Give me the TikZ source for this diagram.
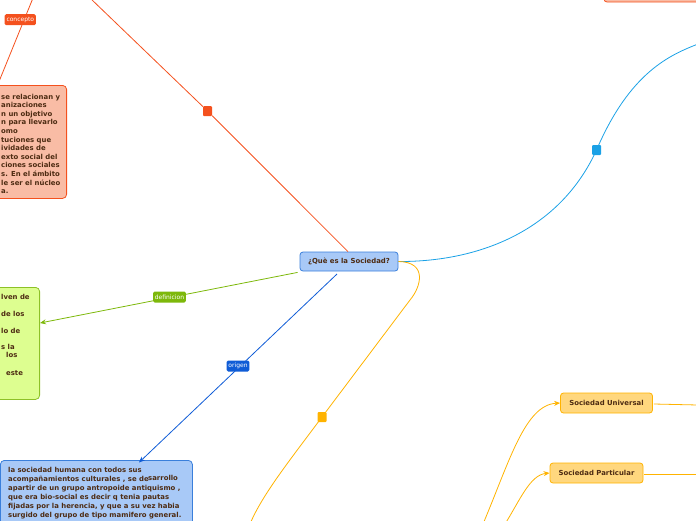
\documentclass[tikz,border=0pt]{standalone}
\usepackage{fontspec}
\setmainfont{DejaVu Sans}
\usetikzlibrary{arrows.meta}
\definecolor{orng}{HTML}{F4511E}
\definecolor{salm}{HTML}{F9BCA5}
\definecolor{grn}{HTML}{7DB80A}
\definecolor{grnfill}{HTML}{DDFE90}
\definecolor{grnbord}{HTML}{8DC127}
\definecolor{dblue}{HTML}{0F5CD6}
\definecolor{bfill}{HTML}{A8C9F7}
\definecolor{bbord}{HTML}{3A7FDB}
\definecolor{cyan1}{HTML}{1AA1E6}
\definecolor{amb}{HTML}{FFB300}
\definecolor{ambfill}{HTML}{FFD77E}
\definecolor{txt}{HTML}{4D2B12}
\tikzset{
  boxtext/.style={font=\fontsize{6.9}{8.7}\selectfont\bfseries, text=txt, inner sep=0pt, anchor=base west},
  lbl/.style={font=\fontsize{6}{7}\selectfont, text=white, rounded corners=1.5pt, inner sep=1.8pt, minimum height=11pt},
  sq/.style={minimum width=9pt, minimum height=10pt, inner sep=0pt, rounded corners=1pt},
  tip/.style={-{Stealth[length=6pt,width=5pt]}},
  topic/.style={rounded corners=3pt, line width=0.8pt, font=\fontsize{6.9}{8}\selectfont\bfseries, text=txt, inner sep=0pt}
}
\begin{document}
\begin{tikzpicture}[x=1pt,y=-1pt]
\useasboundingbox (0,0) rectangle (696,520);
\clip (0,0) rectangle (696,520);
% coordinates
\coordinate (topA) at (90,-2);
\coordinate (conA) at (33,-2);
\coordinate (conB) at (-2,84);
\coordinate (cyanEnd) at (698,44);
\coordinate (ambEnd) at (250,524);
\coordinate (ambU) at (483,524);
\coordinate (ambP) at (505,524);
\coordinate (uEnd) at (698,405);
\coordinate (pEnd) at (698,474);

% top-right orange box (only bottom visible)
\draw[orng, fill=salm, rounded corners=3pt, line width=0.8pt] (604,-20) rectangle (710,2);

% salmon box
\node[draw=orng, fill=salm, rounded corners=4pt, line width=0.8pt, minimum width=120pt, minimum height=113pt, inner sep=0pt, anchor=north east] (sal) at (67,85) {};
\foreach \t [count=\i] in {se relacionan y,anizaciones,n un objetivo,n para llevarlo,omo,tuciones que,ividades de,exto social del,ciones sociales,s. En el ámbito,le ser el núcleo,a.}
  \node[boxtext] at (1,{90.5+\i*8.6}) {\t};

% green box
\node[draw=grnbord, fill=grnfill, rounded corners=4pt, line width=0.8pt, minimum width=90pt, minimum height=112pt, inner sep=0pt, anchor=north east] (gbox) at (40,287) {};
\node[boxtext] at (1,299) {lven de};
\node[boxtext] at (1,316) {de los};
\node[boxtext] at (1,333) {lo de};
\node[boxtext] at (1,349) {s la};
\node[boxtext] at (6,357.5) {los};
\node[boxtext] at (6,375) {este};

% blue box
\node[draw=bbord, fill=bfill, rounded corners=4pt, line width=0.8pt, minimum width=192pt, minimum height=80pt, inner sep=0pt, anchor=north west] (obox) at (0,460) {};
\node[boxtext] at (8,472) {la sociedad humana con todos sus};
\node[boxtext] at (8,481) {acompañamientos culturales , se de};
\node[boxtext] at (148,480.5) {sarrollo};
\node[boxtext] at (8,490) {apartir de un grupo antropoide antiquismo ,};
\node[boxtext] at (8,499) {que era bio-social es decir q tenia pautas};
\node[boxtext] at (8,508) {fijadas por la herencia, y que a su vez habia};
\node[boxtext] at (8,517) {surgido del grupo de tipo mamifero general.};

% central node
\node[topic, draw=bbord, fill=bfill, minimum width=98pt, minimum height=19pt] (c) at (349,261.5) {¿Què es la Sociedad?};

% orange connector to top
\node[sq, fill=orng] (osq) at (207.5,111) {};
\draw[orng, line width=0.8pt] (c.north) ++(-1,0) -- (osq) -- (topA);
% concepto
\draw[orng, line width=0.8pt] (conA) -- (conB);
\node[lbl, fill=orng, anchor=north west] (lc) at (4.5,14) {concepto};

% cyan connector
\node[sq, fill=cyan1] (csq) at (596.5,150) {};
\draw[cyan1, line width=0.8pt] (c.east) .. controls (480,262) and (560,230) .. (csq.center)
  .. controls (630,72) and (670,55) .. (cyanEnd);

% green connector
\draw[grn, line width=0.8pt, tip] (c.south west) ++(-2,1) -- (gbox.east |- 0,323);
\node[lbl, fill=grn] (ld) at (169.5,297) {definicion};

% dark blue connector
\draw[dblue, line width=0.8pt, tip] (337,274) -- (139,462.5);
\node[lbl, fill=dblue] (lo) at (238,366) {origen};

% amber connector
\node[sq, fill=amb] (asq) at (322,417) {};
\draw[amb, line width=0.8pt] (c.east) .. controls (428,262) and (421,287) .. (410,300)
  -- (asq.center) .. controls (290,460) and (262,495) .. (ambEnd);

% Sociedad Universal / Particular
\node[topic, draw=amb, fill=ambfill, minimum width=92pt, minimum height=20pt] (su) at (606.5,403) {Sociedad Universal};
\node[topic, draw=amb, fill=ambfill, minimum width=93pt, minimum height=20pt] (sp) at (596.5,473) {Sociedad Particular};
\draw[amb, line width=0.8pt, tip] (ambU) .. controls (510,460) and (525,405) .. (su.west);
\draw[amb, line width=0.8pt, tip] (ambP) .. controls (520,500) and (530,475) .. (sp.west);
\draw[amb, line width=0.8pt] (su.east) ++(1,1) -- (uEnd);
\draw[amb, line width=0.8pt] (sp.east) ++(1,1) -- (pEnd);
\end{tikzpicture}
\end{document}
